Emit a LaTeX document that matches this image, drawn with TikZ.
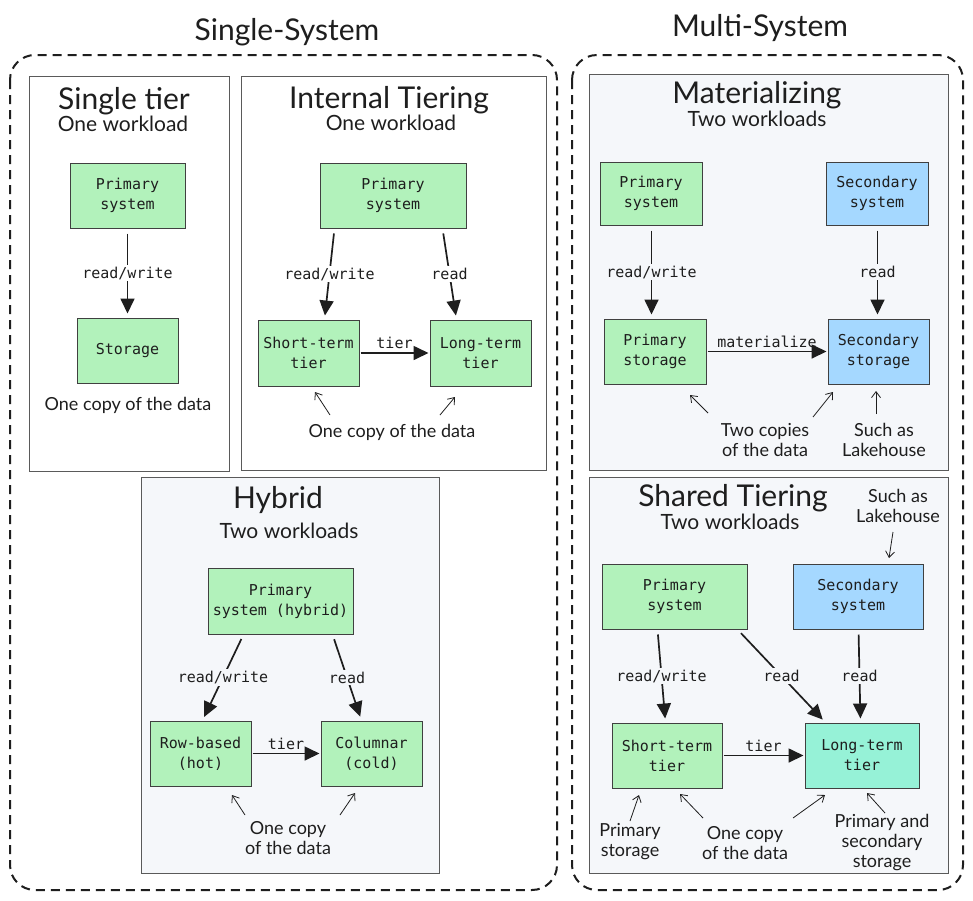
\documentclass[tikz,border=0pt]{standalone}
\usepackage{fontspec}
\setmainfont{Lato}
\newfontfamily\monof{DejaVu Sans Mono}
\usetikzlibrary{arrows.meta}
\definecolor{gfill}{HTML}{B2F2BB}
\definecolor{bfill}{HTML}{A5D8FF}
\definecolor{tfill}{HTML}{96F2D7}
\definecolor{pfill}{HTML}{F5F7FA}
\definecolor{ink}{HTML}{1E1E1E}
\definecolor{pline}{HTML}{5A5A5A}
\tikzset{
 box/.style={draw=ink!85, line width=1pt, align=center, font=\monof\fontsize{15}{20}\selectfont, text=ink, inner sep=0pt},
 gbox/.style={box, fill=gfill},
 bbox/.style={box, fill=bfill},
 tbox/.style={box, fill=tfill},
 panel/.style={draw=pline, line width=1pt},
 flow/.style={draw=ink, line width=1.7pt, -{Triangle[length=15pt,width=14pt]}, shorten <=5pt, shorten >=4pt},
 hflow/.style={flow, shorten <=1pt, shorten >=1pt},
 lbl/.style={font=\monof\fontsize{15}{17}\selectfont, text=ink, inner sep=2pt},
 ann/.style={draw=ink, line width=0.8pt, -{Straight Barb[length=6pt,width=9pt]}},
 anntext/.style={font=\fontsize{18}{20}\selectfont, align=center, text=ink, inner sep=0pt},
 ttl/.style={font=\fontsize{30}{32}\selectfont, text=ink},
 sub/.style={font=\fontsize{21}{23}\selectfont, text=ink},
 grp/.style={draw=ink, line width=2pt, dash pattern=on 9pt off 6pt, rounded corners=25pt},
}
\begin{document}
\begin{tikzpicture}[x=1pt,y=-1pt]
\useasboundingbox[fill=white] (0,0) rectangle (973,900);
% groups
\draw[grp] (10,55) rectangle (557,890);
\draw[grp] (572,55) rectangle (963,890);
\node[ttl] (tss) at (287,32) {Single-System};
\node[ttl] (tms) at (760,28) {Multi-System};
% panels
\draw[panel, fill=white] (29,76) rectangle (229,471);
\draw[panel, fill=white] (241,76) rectangle (546,470);
\draw[panel, fill=pfill] (141,477) rectangle (439,873);
\draw[panel, fill=pfill] (589,74) rectangle (948,470);
\draw[panel, fill=pfill] (589,477) rectangle (948,873);

% ---- Single tier
\node[ttl] (t1) at (124,101) {Single tier};
\node[sub] (u1) at (123,124) {One workload};
\node[gbox, minimum width=115pt, minimum height=65pt] (p1) at (127.5,195.5) {Primary\\system};
\node[gbox, minimum width=101pt, minimum height=65pt] (s1) at (127.5,350.5) {Storage};
\draw[flow] (p1) -- node[lbl, fill=white]{read/write} (s1);
\node[anntext] (n1) at (128,405) {One copy of the data};

% ---- Internal tiering
\node[ttl] (t2) at (389,100) {Internal Tiering};
\node[sub] (u2) at (391,123) {One workload};
\node[gbox, minimum width=146pt, minimum height=65pt] (p2) at (393,195.5) {Primary\\system};
\node[gbox, minimum width=101pt, minimum height=66pt] (st2) at (308.5,353) {Short-term\\tier};
\node[gbox, minimum width=101pt, minimum height=66pt] (lt2) at (480.5,353) {Long-term\\tier};
\draw[flow] ([xshift=15pt]p2.south west) -- node[lbl, fill=white]{read/write} ([xshift=67pt]st2.north west);
\draw[flow] ([xshift=123pt]p2.south west) -- node[lbl, fill=white]{read} ([xshift=27pt]lt2.north west);
\draw[hflow] (st2) -- node[lbl, above=1pt]{tier} (lt2);
\node[anntext] (n2) at (392,432) {One copy of the data};
\coordinate (a2a) at (330,415); \coordinate (b2a) at (315,392);
\coordinate (a2b) at (440,415); \coordinate (b2b) at (455,397);
\draw[ann] (a2a) -- (b2a);
\draw[ann] (a2b) -- (b2b);

% ---- Hybrid
\node[ttl] (t3) at (278,500) {Hybrid};
\node[sub] (u3) at (289,531) {Two workloads};
\node[gbox, minimum width=145pt, minimum height=66pt] (p3) at (280.5,601) {Primary\\system (hybrid)};
\node[gbox, minimum width=101pt, minimum height=65pt] (rb3) at (200.5,753.5) {Row-based\\(hot)};
\node[gbox, minimum width=101pt, minimum height=65pt] (co3) at (371.5,753.5) {Columnar\\(cold)};
\draw[flow] ([xshift=36pt]p3.south west) -- node[lbl, fill=pfill]{read/write} ([xshift=53pt]rb3.north west);
\draw[flow] ([xshift=125pt]p3.south west) -- node[lbl, fill=pfill]{read} ([xshift=41pt]co3.north west);
\draw[hflow] (rb3) -- node[lbl, above=1pt]{tier} (co3);
\node[anntext] (n3) at (288,838) {One copy\\of the data};
\coordinate (a3a) at (245,815); \coordinate (b3a) at (232,795);
\coordinate (a3b) at (340,815); \coordinate (b3b) at (355,793);
\draw[ann] (a3a) -- (b3a);
\draw[ann] (a3b) -- (b3b);

% ---- Materializing
\node[ttl] (t4) at (757,95) {Materializing};
\node[sub] (u4) at (757,119) {Two workloads};
\node[gbox, minimum width=102pt, minimum height=63pt] (p4) at (651,193.5) {Primary\\system};
\node[bbox, minimum width=102pt, minimum height=63pt] (s4) at (877,193.5) {Secondary\\system};
\node[gbox, minimum width=102pt, minimum height=65pt] (ps4) at (655,351.5) {Primary\\storage};
\node[bbox, minimum width=101pt, minimum height=65pt] (ss4) at (878.5,351.5) {Secondary\\storage};
\draw[flow] ([xshift=52pt]p4.south west) -- node[lbl, fill=pfill]{read/write} ([xshift=48pt]ps4.north west);
\draw[flow] ([xshift=52pt]s4.south west) -- node[lbl, fill=pfill]{read} ([xshift=50pt]ss4.north west);
\draw[hflow] (ps4) -- node[lbl, above=1pt]{materialize} (ss4);
\node[anntext] (n4a) at (765,440) {Two copies\\of the data};
\node[anntext] (n4b) at (884,440) {Such as\\Lakehouse};
\coordinate (a4a) at (708,413); \coordinate (b4a) at (690,395);
\coordinate (a4b) at (813,417); \coordinate (b4b) at (833,392);
\coordinate (a4c) at (876,414); \coordinate (b4c) at (876,391);
\draw[ann] (a4a) -- (b4a);
\draw[ann] (a4b) -- (b4b);
\draw[ann] (a4c) -- (b4c);

% ---- Shared tiering
\node[ttl] (t5) at (733,498) {Shared Tiering};
\node[sub] (u5) at (730,522) {Two workloads};
\node[anntext] (n5d) at (898,506) {Such as\\Lakehouse};
\node[gbox, minimum width=145pt, minimum height=65pt] (p5) at (674.5,596.5) {Primary\\system};
\node[bbox, minimum width=130pt, minimum height=65pt] (s5) at (858,596.5) {Secondary\\system};
\node[gbox, minimum width=110pt, minimum height=65pt] (st5) at (667,755.5) {Short-term\\tier};
\node[tbox, minimum width=114pt, minimum height=65pt] (lt5) at (862,755.5) {Long-term\\tier};
\draw[flow] ([xshift=56pt]p5.south west) -- node[lbl, fill=pfill]{read/write} ([xshift=54pt]st5.north west);
\draw[flow] ([xshift=136pt]p5.south west) -- node[lbl, fill=pfill]{read} ([xshift=21pt]lt5.north west);
\draw[flow] ([xshift=66pt]s5.south west) -- node[lbl, fill=pfill]{read} ([xshift=56pt]lt5.north west);
\draw[hflow] (st5) -- node[lbl, above=1pt]{tier} (lt5);
\coordinate (a5d) at (893,532); \coordinate (b5d) at (889,558);
\draw[ann] (a5d) -- (b5d);
\node[anntext] (n5a) at (630,842) {Primary\\storage};
\node[anntext] (n5b) at (745,843) {One copy\\of the data};
\node[anntext] (n5c) at (882,842) {Primary and\\secondary\\storage};
\coordinate (a5a) at (630,821); \coordinate (b5a) at (639,795);
\coordinate (a5b) at (703,818); \coordinate (b5b) at (680,794);
\coordinate (a5c) at (793,818); \coordinate (b5c) at (825,795);
\coordinate (a5e) at (885,813); \coordinate (b5e) at (867,793);
\draw[ann] (a5a) -- (b5a);
\draw[ann] (a5b) -- (b5b);
\draw[ann] (a5c) -- (b5c);
\draw[ann] (a5e) -- (b5e);
\end{tikzpicture}
\end{document}
